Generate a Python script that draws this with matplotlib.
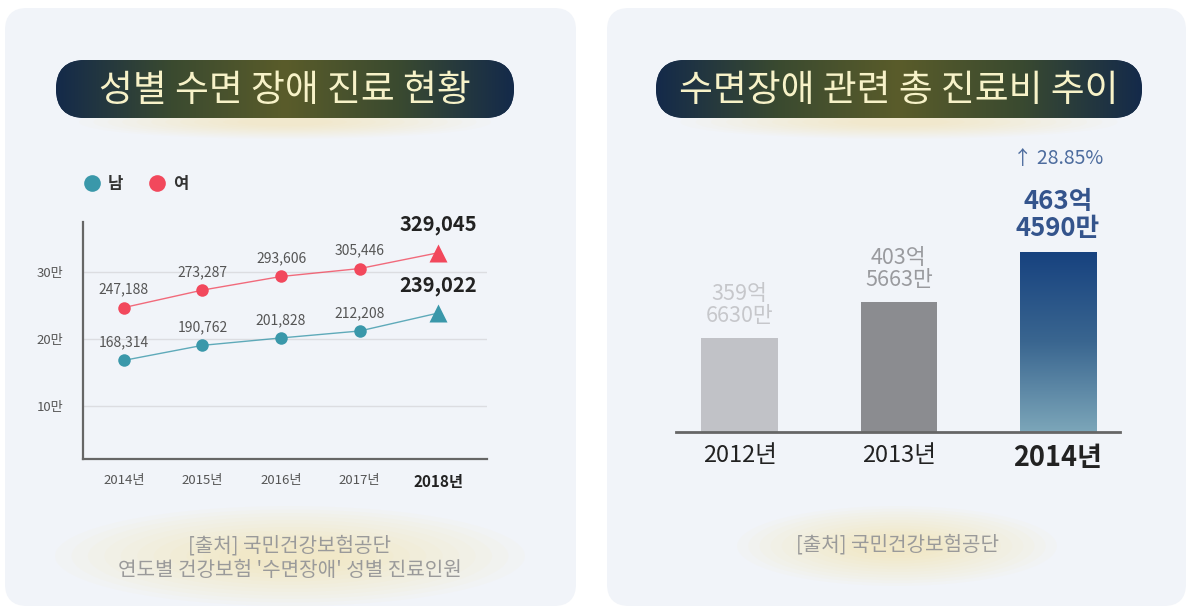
import numpy as np
import matplotlib
matplotlib.use("Agg")
import matplotlib.pyplot as plt
from matplotlib.patches import FancyBboxPatch, Ellipse
from matplotlib.lines import Line2D
from matplotlib.colors import LinearSegmentedColormap

plt.rcParams['font.family'] = ['Noto Sans CJK KR', 'DejaVu Sans']

# 성별 수면 장애 진료 현황
years = ['2014년', '2015년', '2016년', '2017년', '2018년']
male = [168314, 190762, 201828, 212208, 239022]
female = [247188, 273287, 293606, 305446, 329045]
ytick_vals = [100000, 200000, 300000]
ytick_labels = ['10만', '20만', '30만']

# 수면장애 관련 총 진료비 추이 (억 원)
cost_years = ['2012년', '2013년', '2014년']
cost = [359.663, 403.5663, 463.459]
cost_labels = ['359억\n6630만', '403억\n5663만', '463억\n4590만']
growth_label = '↑ 28.85%'

W, H = 1190, 610
fig = plt.figure(figsize=(W / 100, H / 100), dpi=100)
fig.patch.set_facecolor('white')

# background layer in pixel coords (y measured from top)
bg = fig.add_axes([0, 0, 1, 1], zorder=-5)
bg.set_xlim(0, W)
bg.set_ylim(0, H)
bg.axis('off')


def Y(y):
    return H - y


def glow(cx, cy, w, h, a=0.035):
    for k in range(12):
        f = 1 - k * 0.07
        bg.add_patch(Ellipse((cx, Y(cy)), w * f, h * f, color='#f3e67a',
                             alpha=a, lw=0))


def pill(x0, x1, y0, y1, text):
    glow((x0 + x1) / 2, y1 + 4, (x1 - x0) * 0.9, 34, a=0.03)
    p = FancyBboxPatch((x0, Y(y1)), x1 - x0, y1 - y0,
                       boxstyle='round,pad=0,rounding_size=%d' % ((y1 - y0) / 2),
                       fc='#1b3050', ec='none', zorder=1)
    bg.add_patch(p)
    cmap = LinearSegmentedColormap.from_list(
        'pill', ['#142a4a', '#3a4a30', '#5a5c2a', '#3a4a30', '#142a4a'])
    grad = np.linspace(0, 1, 256).reshape(1, -1)
    im = bg.imshow(grad, cmap=cmap, aspect='auto', zorder=2,
                   extent=(x0, x1, Y(y1), Y(y0)))
    im.set_clip_path(p)
    bg.text((x0 + x1) / 2, Y((y0 + y1) / 2 + 1), text, ha='center', va='center',
            fontsize=26.5, color='#f7f2c8', zorder=3)


for px0, px1 in [(5, 576), (607, 1186)]:
    bg.add_patch(FancyBboxPatch((px0, Y(606)), px1 - px0, 598,
                                boxstyle='round,pad=0,rounding_size=22',
                                fc='#f1f4f9', ec='none', zorder=0))

pill(56, 514, 60, 118, '성별 수면 장애 진료 현황')
pill(656, 1142, 60, 118, '수면장애 관련 총 진료비 추이')

# source notes
glow(290, 556, 470, 100)
bg.text(290, Y(546), '[출처] 국민건강보험공단', ha='center', va='center',
        fontsize=14.5, color='#9a9a9a', zorder=3)
bg.text(290, Y(571), "연도별 건강보험 '수면장애' 성별 진료인원", ha='center',
        va='center', fontsize=14.5, color='#9a9a9a', zorder=3)
glow(897, 546, 320, 80)
bg.text(897, Y(545), '[출처] 국민건강보험공단', ha='center', va='center',
        fontsize=14.5, color='#9a9a9a', zorder=3)

# ---- line chart ----
teal = '#3a98aa'
red = '#f2485c'
ax = fig.add_axes([83 / W, 1 - 459 / H, (487 - 83) / W, (459 - 222) / H])
ax.patch.set_alpha(0)
x = np.arange(len(years))
ax.set_xlim(-0.52, 4.62)
ax.set_ylim(21000, 375000)

for vals, col in [(male, teal), (female, red)]:
    ax.plot(x, vals, color=col, lw=1, alpha=0.8, zorder=3)
    ax.plot(x[:-1], vals[:-1], 'o', color=col, ms=9, mec='none', zorder=4)
    ax.plot(x[-1:], vals[-1:], '^', color=col, ms=13, mec='none', zorder=4)
    for i, v in enumerate(vals[:-1]):
        ax.annotate(f'{v:,}', (x[i], v), xytext=(0, 13), textcoords='offset points',
                    ha='center', va='center', fontsize=10, color='#555555')
    ax.annotate(f'{vals[-1]:,}', (x[-1], vals[-1]), xytext=(0, 20),
                textcoords='offset points', ha='center', va='center',
                fontsize=14.5, fontweight='bold', color='#222222')

ax.set_yticks(ytick_vals, ytick_labels)
ax.yaxis.grid(True, color='#dcdde1', lw=1)
ax.set_axisbelow(True)
ax.set_xticks(x, years)
ax.tick_params(length=0, labelsize=9.5, labelcolor='#555555')
ax.tick_params(axis='y', pad=14)
ax.tick_params(axis='x', pad=11)
lab = ax.get_xticklabels()[-1]
lab.set_fontweight('bold')
lab.set_color('#222222')
lab.set_fontsize(11)
for s in ['top', 'right']:
    ax.spines[s].set_visible(False)
for s in ['left', 'bottom']:
    ax.spines[s].set_color('#666666')
    ax.spines[s].set_linewidth(1.6)

handles = [Line2D([], [], marker='o', ls='none', color=teal, ms=12, mec='none'),
           Line2D([], [], marker='o', ls='none', color=red, ms=12, mec='none')]
fig.legend(handles, ['남', '여'], loc='center left',
           bbox_to_anchor=(64 / W, 1 - 184 / H), ncol=2, frameon=False,
           handletextpad=0.2, columnspacing=1.3, handlelength=1.5,
           prop={'size': 12, 'weight': 'bold'}, labelcolor='#333333')

# ---- bar chart ----
bx = fig.add_axes([676 / W, 1 - 432 / H, (1120 - 676) / W, (432 - 140) / H])
bx.patch.set_alpha(0)
xb = np.arange(len(cost_years))
bars = bx.bar(xb, cost, width=0.48, color=['#c1c2c7', '#8b8c90', 'none'], zorder=2)

r = bars[2]
gcmap = LinearSegmentedColormap.from_list('bar', ['#7ca6b9', '#3a6690', '#17427f'])
grad = np.linspace(0, 1, 256).reshape(-1, 1)
bx.imshow(grad, cmap=gcmap, aspect='auto', origin='lower', zorder=2,
          extent=(r.get_x(), r.get_x() + r.get_width(), 246, r.get_height()))
bx.set_xlim(-0.40, 2.39)
bx.set_ylim(246, 600)

label_style = [dict(color='#c6c7cb', fontsize=15.5),
               dict(color='#999a9e', fontsize=15.5),
               dict(color='#34548c', fontsize=18.5, fontweight='bold')]
for i, v in enumerate(cost):
    bx.annotate(cost_labels[i], (xb[i], v), xytext=(0, 8), textcoords='offset points',
                ha='center', va='bottom', linespacing=1.0, **label_style[i])
bx.annotate(growth_label, (xb[2], cost[2]), xytext=(0, 68), textcoords='offset points',
            ha='center', va='center', fontsize=14, color='#4d6c9e')

bx.set_xticks(xb, cost_years)
bx.set_yticks([])
bx.tick_params(length=0, labelsize=17, labelcolor='#222222', pad=9)
lab = bx.get_xticklabels()[-1]
lab.set_fontweight('bold')
lab.set_fontsize(19.5)
for s in ['top', 'right', 'left']:
    bx.spines[s].set_visible(False)
bx.spines['bottom'].set_color('#666666')
bx.spines['bottom'].set_linewidth(2)
bx.spines['bottom'].set_zorder(3)

fig.savefig('out.png', dpi=100)
